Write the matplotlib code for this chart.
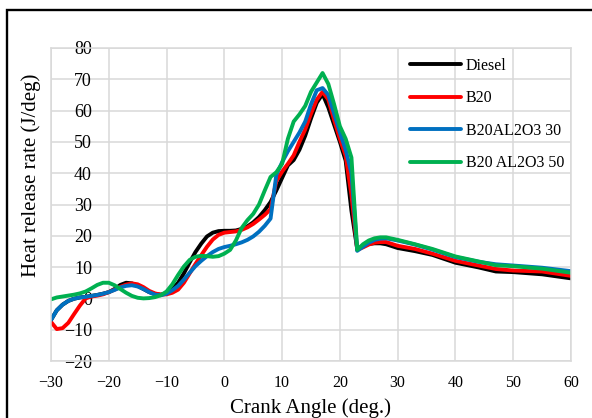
'''
Heat release rate vs crank angle for diesel and B20 blends
'''
import matplotlib
matplotlib.use('Agg')
from matplotlib import pyplot as plt
from matplotlib.patches import Rectangle

plt.rcParams['font.family'] = ['Liberation Serif', 'DejaVu Serif']

# crank angle (deg.)
angle = [-30, -29, -28, -27, -26, -25, -24, -23, -22, -21,
         -20, -19, -18, -17, -16, -15, -14, -13, -12, -11,
         -10, -9, -8, -7, -6, -5, -4, -3, -2, -1,
         0, 1, 2, 3, 4, 5, 6, 7, 8, 9,
         10, 11, 12, 13, 14, 15, 16, 17, 18, 19,
         20, 21, 22, 23, 24, 25, 26, 27, 28,
         30, 33, 36, 40, 44, 47, 50, 55, 60]

diesel = [-6.9, -3.8, -2.0, -0.8, -0.1, 0.3, 0.5, 0.8, 1.1, 1.5,
          2.0, 3.0, 4.3, 5.0, 4.8, 4.0, 3.0, 2.0, 1.4, 1.2,
          1.6, 3.0, 5.0, 8.0, 11.5, 14.8, 17.5, 19.8, 21.0, 21.5,
          21.6, 21.6, 21.7, 22.2, 23.0, 24.3, 26.0, 28.2, 30.8, 34.5,
          38.5, 42.5, 44.2, 47.5, 52.0, 57.5, 62.5, 65.3, 61.0, 55.5,
          50.0, 44.0, 28.0, 15.8, 16.8, 17.4, 17.6, 17.6, 17.3,
          16.1, 15.1, 13.9, 11.4, 9.9, 8.6, 8.4, 7.7, 6.4]

b20 = [-7.5, -9.8, -9.5, -7.8, -5.0, -2.3, 0.0, 0.6, 0.9, 1.3,
       2.0, 2.8, 3.7, 4.4, 4.8, 4.5, 3.6, 2.4, 1.6, 1.2,
       1.3, 1.8, 2.8, 5.0, 8.0, 11.0, 13.8, 16.5, 18.8, 20.3,
       21.0, 21.2, 21.4, 21.9, 22.7, 23.8, 25.2, 26.7, 28.5, 37.5,
       40.5, 43.0, 45.7, 50.0, 54.0, 59.0, 63.5, 66.0, 63.5, 57.0,
       51.0, 45.5, 33.0, 15.5, 16.3, 17.2, 17.8, 18.0, 18.0,
       16.8, 15.8, 14.3, 12.0, 10.5, 9.4, 8.9, 8.6, 7.2]

b20_al30 = [-6.9, -3.8, -2.0, -0.8, -0.1, 0.3, 0.5, 0.8, 1.1, 1.5,
            2.0, 2.7, 3.5, 4.0, 4.2, 3.8, 3.0, 2.0, 1.2, 1.0,
            1.5, 2.6, 4.0, 6.0, 8.2, 10.3, 12.0, 13.5, 14.8, 15.8,
            16.4, 16.8, 17.3, 17.9, 18.7, 19.8, 21.3, 23.2, 25.5, 39.5,
            43.5, 47.0, 50.0, 53.0, 56.5, 62.0, 66.5, 67.2, 65.0, 59.0,
            53.0, 47.5, 40.0, 15.2, 16.5, 17.8, 18.7, 19.1, 19.2,
            18.5, 17.2, 15.6, 13.2, 11.7, 10.9, 10.5, 9.8, 8.7]

b20_al50 = [-0.3, 0.3, 0.6, 0.9, 1.2, 1.6, 2.2, 3.2, 4.3, 5.0,
            5.0, 4.2, 3.0, 1.8, 0.8, 0.2, 0.0, 0.1, 0.4, 1.0,
            2.2, 4.5, 7.5, 10.2, 12.3, 13.3, 13.6, 13.5, 13.3, 13.5,
            14.3, 15.5, 18.5, 22.5, 25.0, 27.0, 30.0, 34.5, 38.8, 40.3,
            43.0, 51.0, 56.5, 58.8, 61.5, 66.0, 69.0, 72.0, 68.5, 62.0,
            55.0, 51.0, 45.0, 15.5, 17.3, 18.5, 19.2, 19.5, 19.5,
            18.7, 17.3, 15.8, 13.4, 11.8, 10.6, 10.3, 9.5, 8.2]

labels = ['Diesel', 'B20', 'B20AL2O3 30', 'B20 AL2O3 50']
colors = ['#000000', '#ff0000', '#0070c0', '#00b050']

x_ticks = [-30, -20, -10, 0, 10, 20, 30, 40, 50, 60]
y_ticks = [-20, -10, 0, 10, 20, 30, 40, 50, 60, 70, 80]

fig = plt.figure(figsize=(5.92, 4.18), dpi=100)
ax = fig.add_axes([51 / 592, 1 - 361 / 418, 520 / 592, 313 / 418])

for y, lab, col in zip([diesel, b20, b20_al30, b20_al50], labels, colors):
    ax.plot(angle, y, color=col, lw=2.8, label=lab,
            solid_joinstyle='round', solid_capstyle='round')

ax.set_xlim(-30, 60)
ax.set_ylim(-20, 80)
ax.set_xticks(x_ticks)
ax.set_yticks(y_ticks)
ax.grid(True, color='#d9d9d9', lw=1.1, zorder=0)
ax.set_axisbelow(True)
for s in ax.spines.values():
    s.set_color('#d9d9d9')
    s.set_linewidth(1.1)
ax.tick_params(length=0, colors='black')
ax.tick_params(axis='x', pad=10, labelsize=11.5)
ax.tick_params(axis='y', pad=-29.5, labelsize=13)

ax.set_xlabel('Crank Angle (deg.)', fontsize=15)
ax.set_ylabel('Heat release rate (J/deg)', fontsize=15)
ax.xaxis.set_label_coords(0.499, -0.118)
ax.yaxis.set_label_coords(-0.019, 0.593)

ax.legend(loc='upper left', bbox_to_anchor=(0.690, 0.968), frameon=False,
          fontsize=11.5, handlelength=3.2, handletextpad=0.3,
          labelspacing=1.03, borderpad=0, borderaxespad=0)

# outer border of the chart, cut off on the right and bottom
fig.add_artist(Rectangle((7.2 / 592, -0.2), 2.0, 1.2 - 9.5 / 418,
                         transform=fig.transFigure, fill=False,
                         ec='black', lw=1.7))

fig.savefig('out.png', dpi=100)
